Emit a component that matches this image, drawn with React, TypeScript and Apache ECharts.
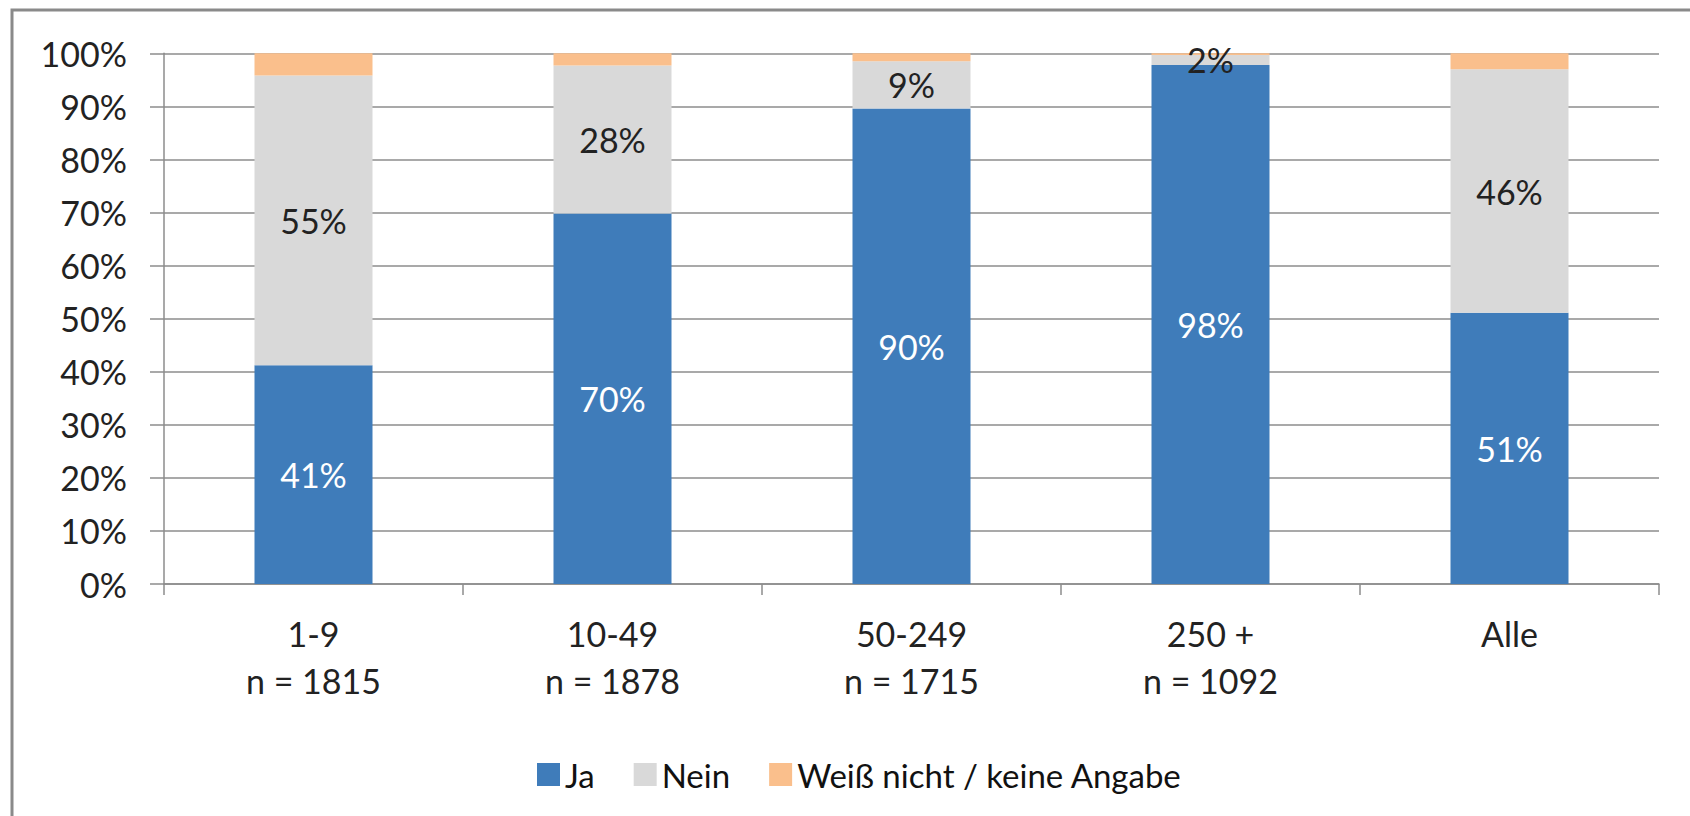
import React, { useEffect, useRef } from "react";
import * as echarts from "echarts";

const categories = ["1-9\nn = 1815", "10-49\nn = 1878", "50-249\nn = 1715", "250 +\nn = 1092", "Alle"];
const jaValues = [41.2, 69.8, 89.6, 97.8, 51.1];
const neinValues = [54.6, 27.9, 8.9, 1.9, 45.9];
const weissValues = [4.2, 2.3, 1.5, 0.3, 3.0];
const yTicks = { min: 0, max: 100, interval: 10 };

const FONT = "Lato";

export default function App() {
  const ref = useRef<HTMLDivElement>(null);
  useEffect(() => {
    document.body.style.margin = "0";
    const chart = echarts.init(ref.current!, null, { renderer: "svg" });
    const labelFmt = (p: any) => Math.round(p.value) + "%";
    chart.setOption({
      animation: false,
      backgroundColor: "#ffffff",
      textStyle: { fontFamily: FONT },
      graphic: [
        {
          type: "rect",
          shape: { x: 12, y: 10, width: 1800, height: 1000 },
          style: { fill: "none", stroke: "#8a8a8a", lineWidth: 3 },
          silent: true,
        },
      ],
      grid: { left: 164, right: 31, top: 53.3, bottom: 232, containLabel: false },
      legend: {
        left: 532,
        top: 753,
        itemWidth: 23,
        itemHeight: 23,
        itemGap: 39,
        icon: "rect",
        textStyle: { fontFamily: FONT, fontSize: 33, color: "#111" },
        data: ["Ja", "Nein", "Weiß nicht / keine Angabe"],
      },
      xAxis: {
        type: "category",
        data: categories,
        boundaryGap: true,
        axisLine: { show: true, lineStyle: { color: "#8c8c8c", width: 1.5 } },
        axisTick: { show: true, length: 11, alignWithLabel: false, lineStyle: { color: "#8c8c8c", width: 1.5 } },
        axisLabel: {
          margin: 25.5,
          fontFamily: FONT,
          fontSize: 34,
          lineHeight: 47,
          color: "#222",
          verticalAlign: "top",
        },
      },
      yAxis: {
        type: "value",
        min: yTicks.min,
        max: yTicks.max,
        interval: yTicks.interval,
        axisLine: { show: true, lineStyle: { color: "#8c8c8c", width: 1.5 } },
        axisTick: { show: true, length: 14, lineStyle: { color: "#8c8c8c", width: 1.5 } },
        splitLine: { show: true, lineStyle: { color: "#8c8c8c", width: 1.5 } },
        axisLabel: {
          formatter: "{value}%",
          margin: 37,
          fontFamily: FONT,
          fontSize: 34,
          color: "#222",
        },
      },
      series: [
        {
          name: "Ja",
          type: "bar",
          stack: "total",
          barWidth: 118,
          data: jaValues,
          itemStyle: { color: "#3f7cba" },
          label: { show: true, position: "inside", formatter: labelFmt, color: "#ffffff", fontFamily: FONT, fontSize: 34 },
        },
        {
          name: "Nein",
          type: "bar",
          stack: "total",
          barWidth: 118,
          data: neinValues,
          itemStyle: { color: "#d9d9d9" },
          label: { show: true, position: "inside", formatter: labelFmt, color: "#222", fontFamily: FONT, fontSize: 34 },
        },
        {
          name: "Weiß nicht / keine Angabe",
          type: "bar",
          stack: "total",
          barWidth: 118,
          data: weissValues,
          itemStyle: { color: "#fabf8c" },
          label: { show: false },
        },
      ],
    });
    return () => chart.dispose();
  }, []);
  return <div ref={ref} style={{ width: 1690, height: 816 }} />;
}
